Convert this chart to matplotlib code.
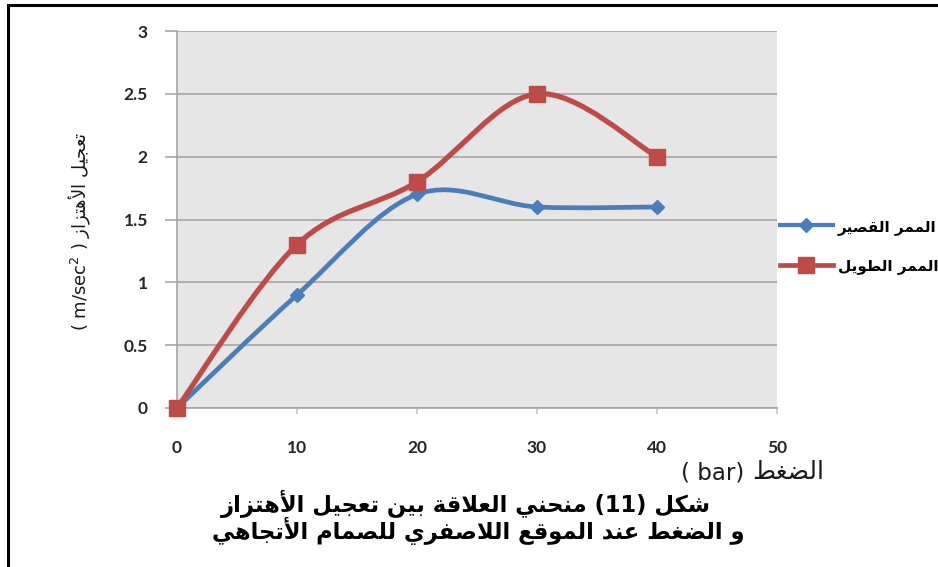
import matplotlib
matplotlib.use("Agg")
import matplotlib.pyplot as plt
from matplotlib.path import Path
from matplotlib.patches import PathPatch, Rectangle
from matplotlib.lines import Line2D

# ---------------- data ----------------
pressure = [0, 10, 20, 30, 40]
short_passage = [0, 0.9, 1.7, 1.6, 1.6]
long_passage = [0, 1.3, 1.8, 2.5, 2.0]
x_ticks = [0, 10, 20, 30, 40, 50]
y_ticks = [0, 0.5, 1, 1.5, 2, 2.5, 3]
y_tick_labels = ["0", "0.5", "1", "1.5", "2", "2.5", "3"]
series_names = ["الممر القصير", "الممر الطويل"]
y_title_ar = "تعجيل الأهتزاز"
x_title_ar = "الضغط"
x_unit = "( bar)"
caption_word = "شكل"
caption_num = "11"
caption_line1_ar = "منحني العلاقة بين تعجيل الأهتزاز"
caption_line2_ar = "و الضغط عند الموقع اللاصفري للصمام الأتجاهي"

# ---------------- minimal Arabic shaping ----------------
_DUAL = {
    'ب': 0xFE8F, 'ت': 0xFE95, 'ث': 0xFE99, 'ج': 0xFE9D, 'ح': 0xFEA1,
    'خ': 0xFEA5, 'س': 0xFEB1, 'ش': 0xFEB5, 'ص': 0xFEB9, 'ض': 0xFEBD,
    'ط': 0xFEC1, 'ظ': 0xFEC5, 'ع': 0xFEC9, 'غ': 0xFECD, 'ف': 0xFED1,
    'ق': 0xFED5, 'ك': 0xFED9, 'ل': 0xFEDD, 'م': 0xFEE1, 'ن': 0xFEE5,
    'ه': 0xFEE9, 'ي': 0xFEF1,
}
_RIGHT = {
    'ا': 0xFE8D, 'أ': 0xFE83, 'إ': 0xFE87, 'آ': 0xFE81, 'د': 0xFEA9,
    'ذ': 0xFEAB, 'ر': 0xFEAD, 'ز': 0xFEAF, 'و': 0xFEED, 'ة': 0xFE93,
    'ى': 0xFEEF,
}
_LAM_ALEF = {'آ': 0xFEF5, 'أ': 0xFEF7, 'إ': 0xFEF9, 'ا': 0xFEFB}


def _joins(c):
    return c in _DUAL or c in _RIGHT


def shape(text):
    """Return Arabic text in contextual presentation forms, visual order."""
    chars = list(text)
    out = []
    i = 0
    n = len(chars)
    while i < n:
        c = chars[i]
        prev = chars[i - 1] if i > 0 else ''
        link_prev = prev in _DUAL and _joins(c)
        if c == 'ل' and i + 1 < n and chars[i + 1] in _LAM_ALEF:
            base = _LAM_ALEF[chars[i + 1]]
            out.append(chr(base + (1 if link_prev else 0)))
            i += 2
            continue
        nxt = chars[i + 1] if i + 1 < n else ''
        if c in _DUAL:
            link_next = _joins(nxt)
            base = _DUAL[c]
            if link_prev and link_next:
                out.append(chr(base + 3))
            elif link_prev:
                out.append(chr(base + 1))
            elif link_next:
                out.append(chr(base + 2))
            else:
                out.append(chr(base))
        elif c in _RIGHT:
            out.append(chr(_RIGHT[c] + (1 if link_prev else 0)))
        else:
            out.append(c)
        i += 1
    return ''.join(reversed(out))


# ---------------- smooth curve (Catmull-Rom as cubic Bezier) ----------------
def smooth_path(xs, ys):
    pts = list(zip(xs, ys))
    verts = [pts[0]]
    codes = [Path.MOVETO]
    m = len(pts)
    for k in range(m - 1):
        p0 = pts[k - 1] if k > 0 else pts[k]
        p1 = pts[k]
        p2 = pts[k + 1]
        p3 = pts[k + 2] if k + 2 < m else pts[k + 1]
        c1 = (p1[0] + (p2[0] - p0[0]) / 6.0, p1[1] + (p2[1] - p0[1]) / 6.0)
        c2 = (p2[0] - (p3[0] - p1[0]) / 6.0, p2[1] - (p3[1] - p1[1]) / 6.0)
        verts += [c1, c2, p2]
        codes += [Path.CURVE4] * 3
    return Path(verts, codes)


# ---------------- figure ----------------
W, H = 938, 567
fig = plt.figure(figsize=(W / 100, H / 100), dpi=100)
fig.patch.set_facecolor("white")

ax = fig.add_axes([177 / W, 1 - 408 / H, 600 / W, 377 / H])
ax.set_facecolor("#e6e6e6")
ax.set_xlim(0, 50)
ax.set_ylim(0, 3)

grid_c = "#a6a6a6"
for s in ["top", "right"]:
    ax.spines[s].set_visible(False)
for s in ["left", "bottom"]:
    ax.spines[s].set_color(grid_c)
    ax.spines[s].set_linewidth(1.2)

ax.yaxis.grid(True, color=grid_c, linewidth=1.2)
ax.set_axisbelow(True)

tick_font = dict(family="Lato", weight="bold", size=12.5)
ax.set_xticks(x_ticks)
ax.set_xticklabels([str(v) for v in x_ticks], **tick_font, color="#262626")
ax.set_yticks(y_ticks)
ax.set_yticklabels(y_tick_labels, **tick_font, color="#262626")
ax.tick_params(axis="y", length=9, width=1.2, color=grid_c, pad=12)
ax.tick_params(axis="x", length=4, width=1.2, color="#c8c8c8", pad=19)

blue = "#4a7ebb"
red = "#be4b48"

ax.add_patch(PathPatch(smooth_path(pressure, short_passage), fill=False,
                       edgecolor=blue, linewidth=3.4, capstyle="round",
                       joinstyle="round", zorder=3))
ax.plot(pressure, short_passage, linestyle="none", marker="D", markersize=7,
        color=blue, zorder=4, clip_on=False)
ax.add_patch(PathPatch(smooth_path(pressure, long_passage), fill=False,
                       edgecolor=red, linewidth=3.8, capstyle="round",
                       joinstyle="round", zorder=5))
ax.plot(pressure, long_passage, linestyle="none", marker="s", markersize=11.5,
        color=red, zorder=6, clip_on=False)

# legend
handles = [
    Line2D([], [], color=blue, linewidth=3.0, marker="D", markersize=7),
    Line2D([], [], color=red, linewidth=3.4, marker="s", markersize=11),
]
fig.legend(handles, [shape(t) for t in series_names], loc="upper left",
           bbox_to_anchor=(772 / W, 1 - 211 / H), frameon=False,
           borderpad=0, handlelength=3.5, handletextpad=0.3,
           labelspacing=1.55, prop=dict(family="DejaVu Sans", weight="bold",
                                        size=11))

# axis titles
fig.text(80 / W, 1 - 231 / H, "( m/sec$^2$ ) " + shape(y_title_ar),
         rotation=90, ha="center", va="center", fontsize=13,
         family="DejaVu Sans", color="#1a1a1a")
fig.text(744 / W, 1 - 473 / H, x_unit, ha="right", va="center",
         fontsize=16.5, family="DejaVu Sans", color="#1a1a1a")
fig.text(752 / W, 1 - 472 / H, shape(x_title_ar), ha="left", va="center",
         fontsize=18, family="DejaVu Sans", color="#1a1a1a")

# caption
cap1 = shape(caption_line1_ar) + " (" + caption_num + ") " + shape(caption_word)
fig.text(466 / W, 1 - 504 / H, cap1, ha="center", va="center",
         fontsize=16.3, weight="bold", family="DejaVu Sans", color="black")
fig.text(478 / W, 1 - 531 / H, shape(caption_line2_ar), ha="center",
         va="center", fontsize=16.3, weight="bold", family="DejaVu Sans",
         color="black")

# outer frame
fig.patches.append(Rectangle((8 / W, -0.05), 1.2, 1 - 5 / H + 0.05,
                             transform=fig.transFigure, fill=False,
                             edgecolor="black", linewidth=2.2))

fig.savefig("out.png", dpi=100, facecolor="white")
